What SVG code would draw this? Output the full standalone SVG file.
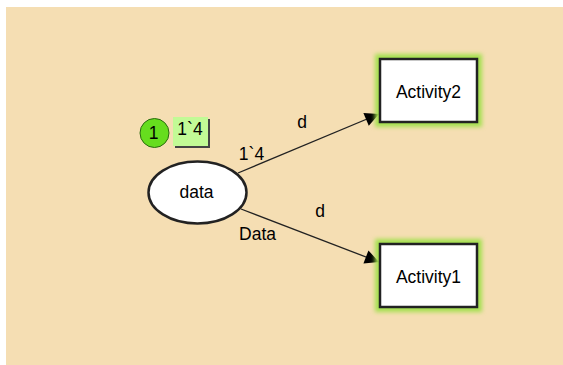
<svg xmlns="http://www.w3.org/2000/svg" width="563" height="365" viewBox="0 0 563 365">
<style>
text{font-family:"Liberation Sans",Arial,sans-serif;font-size:17.5px;fill:#000}
.node{fill:#fff;stroke:#222;stroke-width:2.5}
.glow{fill:#a4e050;filter:url(#blur)}
.edge{stroke:#222;stroke-width:1.3;fill:none;marker-end:url(#ah)}
</style>
<defs>
<filter id="blur" x="-20%" y="-30%" width="140%" height="160%"><feGaussianBlur stdDeviation="2"/></filter>
<marker id="ah" viewBox="0 0 10 10" refX="10" refY="5" markerWidth="15" markerHeight="14" markerUnits="userSpaceOnUse" orient="auto"><path d="M0,0L10,5L0,10Z" fill="#000"/></marker>
</defs>
<rect x="6" y="7" width="557" height="358" fill="#f5deb3"/>
<g id="connectors">
<line class="edge" x1="238" y1="173" x2="379" y2="114"/>
<line class="edge" x1="241" y1="209" x2="379" y2="262"/>
<text x="302" y="128" text-anchor="middle">d</text>
<text x="251.5" y="160" text-anchor="middle">1`4</text>
<text x="320" y="217" text-anchor="middle">d</text>
<text x="257.5" y="239.5" text-anchor="middle">Data</text>
</g>
<g id="data">
<ellipse class="node" cx="197.5" cy="192.5" rx="49" ry="31" stroke-width="2"/>
<text x="196.5" y="197.5" text-anchor="middle">data</text>
</g>
<g id="token">
<circle cx="154.5" cy="133" r="14.5" fill="#66dd1e" stroke="#2a6a10" stroke-width="1"/>
<text x="153.5" y="138.5" text-anchor="middle">1</text>
<rect x="175" y="119" width="35" height="29" fill="#444"/>
<rect x="173" y="117" width="35" height="29" fill="#c2fa96"/>
<text x="190" y="134.5" text-anchor="middle">1`4</text>
</g>
<g id="activity2">
<rect class="glow" x="375" y="54" width="107" height="73"/>
<rect class="node" x="380" y="59" width="97" height="63"/>
<text x="428.5" y="97.5" text-anchor="middle">Activity2</text>
</g>
<g id="activity1">
<rect class="glow" x="375" y="239" width="107" height="73"/>
<rect class="node" x="380" y="244" width="97" height="63"/>
<text x="428.5" y="283" text-anchor="middle">Activity1</text>
</g>
</svg>
